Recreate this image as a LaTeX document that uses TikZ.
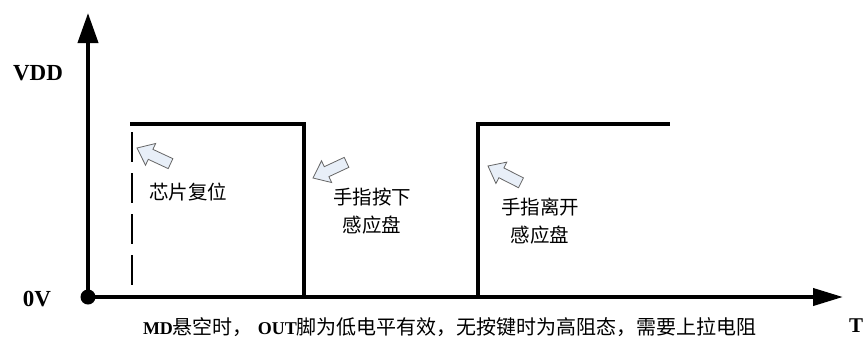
\documentclass[tikz,border=0pt]{standalone}
\usepackage{fontspec}
\setmainfont{Liberation Serif}
\newfontfamily\cjk{Noto Sans CJK SC}
\usetikzlibrary{arrows.meta,positioning}

\begin{document}
\begin{tikzpicture}[x=1pt,y=-1pt,
    lvl/.style={font=\bfseries\fontsize{23}{23}\selectfont,inner sep=0pt},
    note/.style={font=\cjk\fontsize{19.5}{28}\selectfont,align=center,inner sep=0pt},
    axis/.style={line width=4pt},
    wave/.style={line width=3.3pt},
    hintarrow/.style={fill={rgb,255:red,232;green,239;blue,248},draw=black!60,line width=0.8pt},
    hint/.pic={\path[hintarrow] (0,0) -- (-15,-12) -- (-15,-5.5) -- (-37,-5.5) -- (-37,5.5) -- (-15,5.5) -- (-15,12) -- cycle;}]
   \useasboundingbox (0,0) rectangle (867,338);
   % axes
   \coordinate (o) at (88,297);
   \coordinate (ytop) at (88,13);
   \coordinate (xend) at (843,297);
   \draw[axis,-{Triangle[width=20pt,length=30pt]}] (o) -- (ytop);
   \draw[axis,-{Triangle[width=17pt,length=30pt]}] (o) -- (xend);
   \fill (o) circle[radius=7.5pt];
   \node[lvl] (vdd) at (38,73) {VDD};
   \node[lvl] (zero) at (37,299) {0V};
   \node[lvl,font=\bfseries\fontsize{21}{21}\selectfont] (t) at (856,326) {T};
   % output level
   \coordinate (r0) at (130,124);
   \coordinate (f1) at (304,124);
   \coordinate (f2) at (304,297);
   \coordinate (r1) at (478,297);
   \coordinate (r2) at (478,124);
   \coordinate (hend) at (670,124);
   \draw[wave] (r0) -- (f1) -- (f2) -- (r1) -- (r2) -- (hend);
   \coordinate (d0) at (132,132);
   \coordinate (d1) at (132,287);
   \draw[line width=1.2pt,dash pattern=on 30pt off 11pt] (d0) -- (d1);
   % notes
   \pic[rotate=155] (hreset) at (137,148) {hint};
   \pic[rotate=205] (hpress) at (313,178) {hint};
   \pic[rotate=153] (hleave) at (488,166) {hint};
   \node[note] (reset) at (188,192) {芯片复位};
   \node[note] (press) at (372,211) {手指按下\\感应盘};
   \node[note] (leave) at (540,221) {手指离开\\感应盘};
   \node[inner sep=0pt,font=\fontsize{20}{20}\selectfont] (cap) at (450,327)
        {{\fontsize{18}{20}\selectfont\bfseries MD}{\cjk 悬空时，} {\fontsize{18}{20}\selectfont\bfseries OUT}{\cjk 脚为低电平有效，无按键时为高阻态，需要上拉电阻}};
\end{tikzpicture}
\end{document}
